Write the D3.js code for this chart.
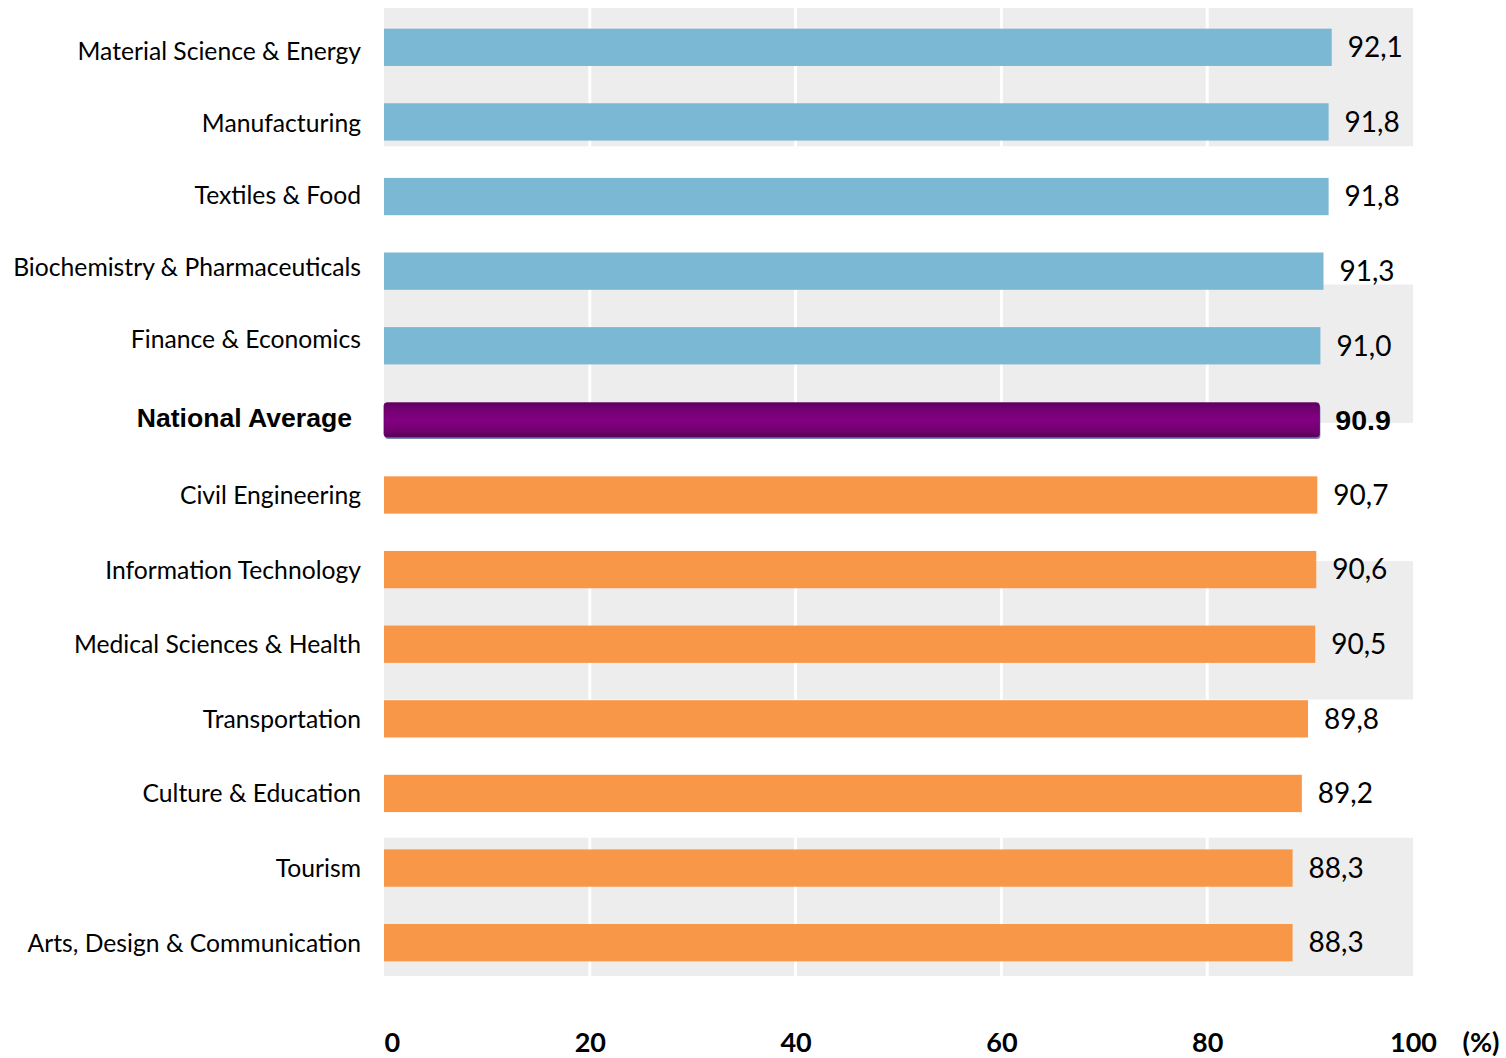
<!DOCTYPE html>
<html>
<head>
<meta charset="utf-8">
<script src="https://cdn.jsdelivr.net/npm/d3@7"></script>
<style>
  html, body { margin: 0; padding: 0; background: #ffffff; }
  svg { display: block; }
</style>
</head>
<body>
<svg id="chart" width="1506" height="1058"></svg>
<script>
// Fields of study, top to bottom
const categories = [
  "Material Science & Energy",
  "Manufacturing",
  "Textiles & Food",
  "Biochemistry & Pharmaceuticals",
  "Finance & Economics",
  "National Average",
  "Civil Engineering",
  "Information Technology",
  "Medical Sciences & Health",
  "Transportation",
  "Culture & Education",
  "Tourism",
  "Arts, Design & Communication"
];

// Share of graduates (%), same order as categories
const values = [92.1, 91.8, 91.8, 91.3, 91.0, 90.9, 90.7, 90.6, 90.5, 89.8, 89.2, 88.3, 88.3];

// Which group each row belongs to: above average, the average itself, below average
const groups = ["above", "above", "above", "above", "above", "average",
  "below", "below", "below", "below", "below", "below", "below"];

const xTicks = [0, 20, 40, 60, 80, 100];
const axisUnit = "(%)";

const rows = categories.map((c, i) => ({ category: c, value: values[i], group: groups[i] }));

const colors = { above: "#7bb8d3", below: "#f79747" };
const labelFont = "Lato, 'Open Sans', sans-serif";
const boldFont = "'Liberation Sans', Arial, sans-serif";

const svg = d3.select("#chart");

const x = d3.scaleLinear().domain([0, 100]).range([384, 1413]);
const y = d3.scaleBand().domain(categories).range([10, 980]).paddingInner(0.5).paddingOuter(0.25);

// The above-average labels sit on a slightly tighter pitch than the bars
const aboveCats = rows.filter(d => d.group === "above").map(d => d.category);
const yAboveLabel = d3.scalePoint().domain(aboveCats).range([51, 339]);
const labelY = d => d.group === "above"
  ? yAboveLabel(d.category)
  : y(d.category) + y.bandwidth() / 2 + (d.group === "average" ? -3 : 0);

// Alternating shaded background bands
const bandCount = 7;
const bandScale = d3.scaleBand().domain(d3.range(bandCount)).range([8, 976]);
svg.append("g").selectAll("rect")
  .data(d3.range(bandCount).filter(i => i % 2 === 0))
  .join("rect")
  .attr("x", x(0))
  .attr("y", i => bandScale(i))
  .attr("width", x(100) - x(0))
  .attr("height", bandScale.bandwidth())
  .attr("fill", "#ededed");

// Vertical gridlines
svg.append("g").selectAll("line")
  .data(xTicks.filter(t => t > 0 && t < 100))
  .join("line")
  .attr("x1", d => x(d)).attr("x2", d => x(d))
  .attr("y1", 8).attr("y2", 976)
  .attr("stroke", "#ffffff")
  .attr("stroke-width", 3);

// Gradient for the national average bar
const defs = svg.append("defs");
const grad = defs.append("linearGradient")
  .attr("id", "avgGrad").attr("x1", 0).attr("y1", 0).attr("x2", 0).attr("y2", 1);
grad.append("stop").attr("offset", "0%").attr("stop-color", "#5c005c");
grad.append("stop").attr("offset", "18%").attr("stop-color", "#720071");
grad.append("stop").attr("offset", "50%").attr("stop-color", "#820082");
grad.append("stop").attr("offset", "82%").attr("stop-color", "#72006f");
grad.append("stop").attr("offset", "100%").attr("stop-color", "#580056");

// Bars
const bars = svg.append("g");
bars.selectAll("rect.bar")
  .data(rows.filter(d => d.group !== "average"))
  .join("rect")
  .attr("class", "bar")
  .attr("x", x(0))
  .attr("y", d => y(d.category))
  .attr("width", d => x(d.value) - x(0))
  .attr("height", y.bandwidth())
  .attr("fill", d => colors[d.group]);

const avg = rows.filter(d => d.group === "average");
// soft bluish shadow under the average bar
bars.selectAll("rect.avgShadow")
  .data(avg)
  .join("rect")
  .attr("class", "avgShadow")
  .attr("x", x(0) + 1)
  .attr("y", d => y(d.category) + 3)
  .attr("width", d => x(d.value) - x(0))
  .attr("height", y.bandwidth() - 3)
  .attr("rx", 3)
  .attr("fill", "#4d5f9e")
  .attr("opacity", 0.75);
bars.selectAll("rect.avg")
  .data(avg)
  .join("rect")
  .attr("class", "avg")
  .attr("x", x(0))
  .attr("y", d => y(d.category) + 1)
  .attr("width", d => x(d.value) - x(0))
  .attr("height", y.bandwidth() - 3)
  .attr("rx", 3)
  .attr("fill", "url(#avgGrad)")
  .attr("stroke", "#650065")
  .attr("stroke-width", 0.8);

// Value labels
const fmt = d3.format(".1f");
svg.append("g").selectAll("text")
  .data(rows)
  .join("text")
  .attr("x", d => x(d.value) + 16)
  .attr("y", d => y(d.category) + y.bandwidth() / 2)
  .attr("dy", "0.35em")
  .attr("font-family", d => d.group === "average" ? boldFont : labelFont)
  .attr("font-weight", d => d.group === "average" ? "bold" : "normal")
  .attr("font-size", d => d.group === "average" ? 28.5 : 28)
  .attr("fill", "#000")
  .text(d => d.group === "average" ? fmt(d.value) : fmt(d.value).replace(".", ","));

// Category labels
svg.append("g").selectAll("text")
  .data(rows)
  .join("text")
  .attr("x", d => d.group === "average" ? 352 : 361)
  .attr("y", labelY)
  .attr("dy", "0.36em")
  .attr("text-anchor", "end")
  .attr("font-family", d => d.group === "average" ? boldFont : labelFont)
  .attr("font-weight", d => d.group === "average" ? "bold" : "normal")
  .attr("font-size", d => d.group === "average" ? 26.6 : 24.7)
  .attr("fill", "#000")
  .text(d => d.category);

// Bottom axis (labels only)
const axis = d3.axisBottom(x).tickValues(xTicks).tickSize(0).tickPadding(0).tickFormat(d3.format("d"));
const gAxis = svg.append("g").attr("transform", "translate(0,1052)").call(axis);
gAxis.select(".domain").remove();
gAxis.selectAll("text")
  .attr("font-family", labelFont)
  .attr("font-weight", "bold")
  .attr("font-size", 27)
  .attr("fill", "#000")
  .attr("text-anchor", d => d === 0 ? "start" : "middle")
  .attr("dy", 0);

svg.append("text")
  .attr("x", 1481)
  .attr("y", 1052)
  .attr("text-anchor", "middle")
  .attr("font-family", labelFont)
  .attr("font-weight", "bold")
  .attr("font-size", 27)
  .text(axisUnit);
</script>
</body>
</html>
